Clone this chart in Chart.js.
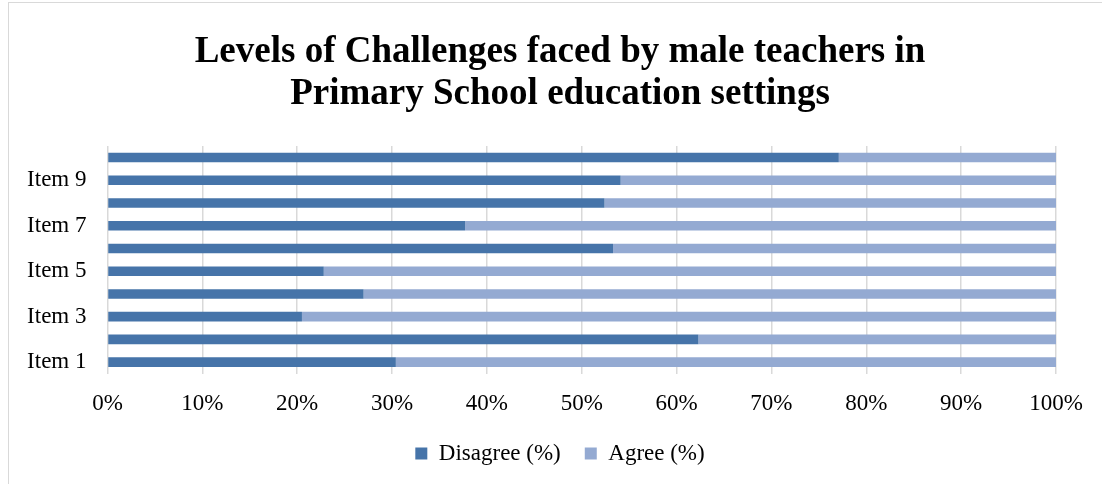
<!DOCTYPE html>
<html>
<head>
<meta charset="utf-8">
<script src="https://cdn.jsdelivr.net/npm/chart.js@4.4.0/dist/chart.umd.min.js"></script>
<style>
  html, body { margin: 0; padding: 0; background: #fff; }
  #wrap { width: 1102px; height: 484px; position: relative; }
</style>
</head>
<body>
<div id="wrap">
  <canvas id="challengeChart" width="1102" height="484"></canvas>
</div>

<script>
const items = ['Item 1', 'Item 2', 'Item 3', 'Item 4', 'Item 5', 'Item 6', 'Item 7', 'Item 8', 'Item 9', 'Item 10'];
const disagree = [30.4, 62.3, 20.5, 27.0, 22.8, 53.3, 37.7, 52.4, 54.1, 77.1];
const agree = [69.6, 37.7, 79.5, 73.0, 77.2, 46.7, 62.3, 47.6, 45.9, 22.9];
const xTicks = [0, 10, 20, 30, 40, 50, 60, 70, 80, 90, 100];

const serif = "'Liberation Serif', 'Times New Roman', serif";

// light grey frame round the chart, like the Excel chart border
const framePlugin = {
    id: 'frame',
    beforeDraw(chart) {
        const ctx = chart.ctx;
        ctx.save();
        ctx.strokeStyle = '#d9d9d9';
        ctx.lineWidth = 1;
        ctx.strokeRect(8.5, 2.5, 1200, 600);
        ctx.restore();
    }
};

const ctx = document.getElementById('challengeChart').getContext('2d');
new Chart(ctx, {
    type: 'bar',
    data: {
        labels: items,
        datasets: [
            {
                label: 'Disagree (%)',
                data: disagree,
                backgroundColor: '#4674a9',
                barPercentage: 0.42,
                categoryPercentage: 1.0,
            },
            {
                label: 'Agree (%)',
                data: agree,
                backgroundColor: '#94aad2',
                barPercentage: 0.42,
                categoryPercentage: 1.0,
            },
        ],
    },
    options: {
        indexAxis: 'y',
        responsive: false,
        animation: false,
        layout: {
            // right margin comes from the x axis padding so the title stays centred like the original
            padding: { left: 18, right: 0, top: 0, bottom: 9 },
        },
        plugins: {
            title: {
                display: true,
                text: ['Levels of Challenges faced by male teachers in', 'Primary School education settings'],
                color: '#000',
                font: { family: serif, size: 37, weight: 'bold', lineHeight: 1.15 },
                padding: { top: 31, bottom: 30 },
            },
            legend: {
                display: true,
                position: 'bottom',
                labels: {
                    color: '#000',
                    font: { family: serif, size: 23 },
                    boxWidth: 12,
                    boxHeight: 12,
                    padding: 24,
                },
            },
            tooltip: { enabled: false },
        },
        scales: {
            x: {
                stacked: true,
                min: 0,
                max: 100,
                afterBuildTicks: (scale) => {
                    scale.ticks = xTicks.map(v => ({ value: v }));
                },
                afterFit: (scale) => {
                    scale.height = 44.5;
                    scale.paddingRight = 46;
                },
                ticks: {
                    color: '#000',
                    font: { family: serif, size: 23 },
                    padding: 17,
                    callback: (v) => v + '%',
                },
                grid: {
                    color: '#d9d9d9',
                    lineWidth: 1.5,
                    drawTicks: false,
                },
                border: { display: false },
            },
            y: {
                stacked: true,
                reverse: true,
                afterFit: (scale) => { scale.width = 89.5; },
                ticks: {
                    color: '#000',
                    font: { family: serif, size: 23 },
                    padding: 21,
                    autoSkip: false,
                    callback: function (value, index) {
                        return index % 2 === 0 ? this.getLabelForValue(value) : '';
                    },
                },
                grid: { display: false, drawTicks: false },
                border: { display: false },
            },
        },
    },
    plugins: [framePlugin],
});
</script>
</body>
</html>
